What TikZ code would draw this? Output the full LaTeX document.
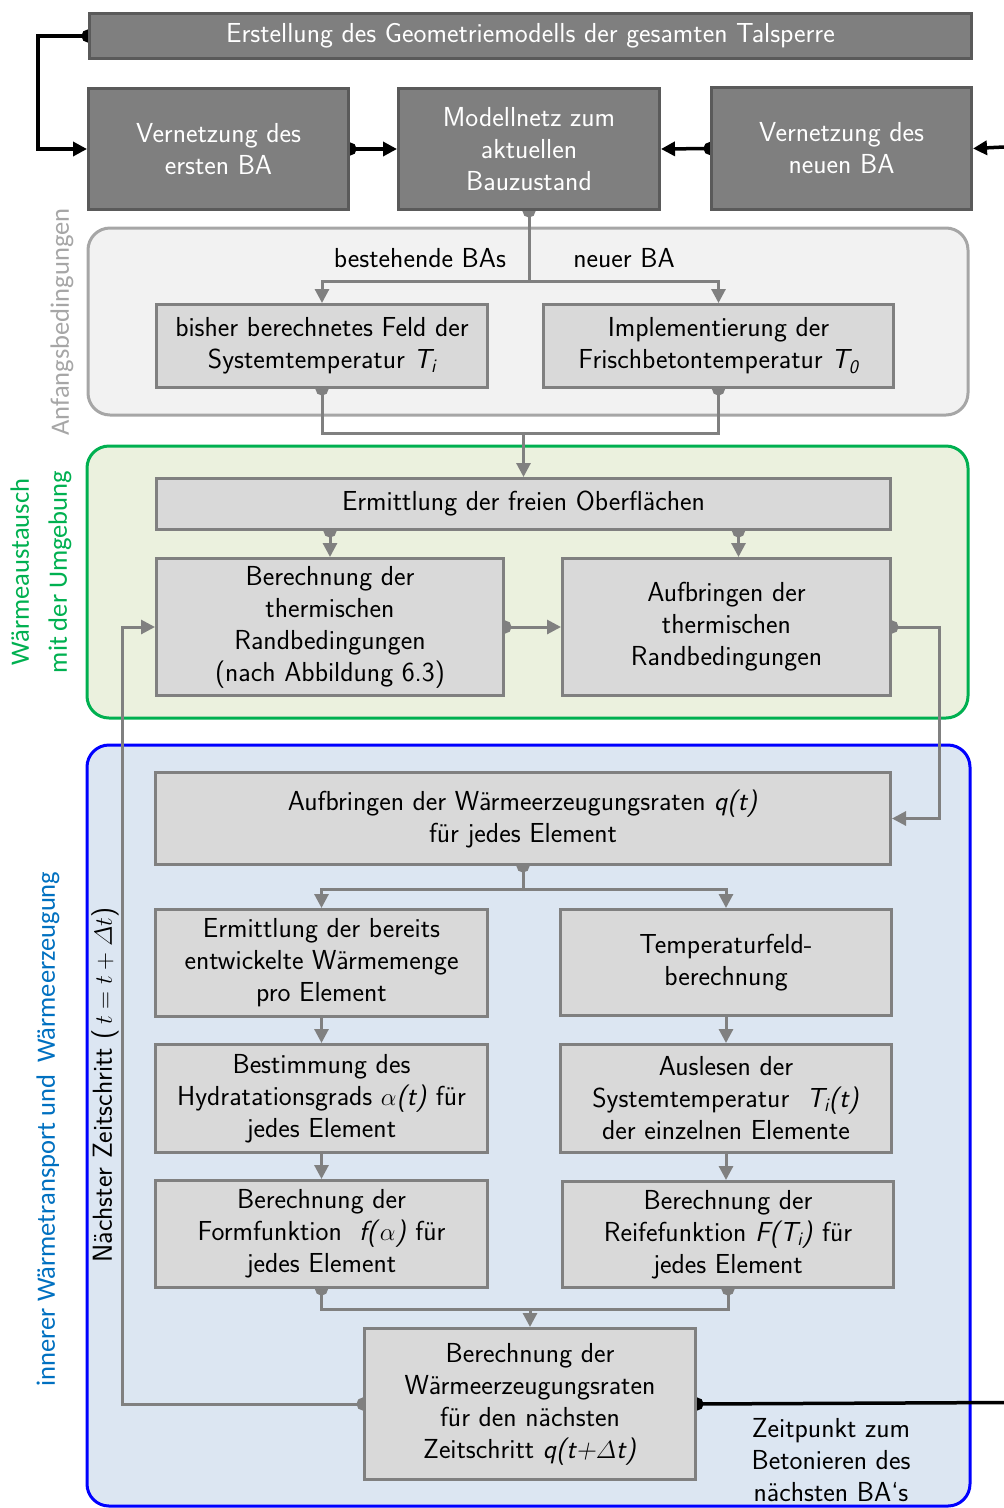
\documentclass[tikz,border=0pt]{standalone}
\usepackage{fontspec}
\usetikzlibrary{arrows.meta,calc,positioning}
\newfontfamily\sidefont{Carlito}
\definecolor{ink}{HTML}{000000}
\definecolor{darkfill}{HTML}{7F7F7F}
\definecolor{darkline}{HTML}{5A5A5A}
\definecolor{boxfill}{HTML}{D9D9D9}
\definecolor{boxline}{HTML}{808080}
\definecolor{anfline}{HTML}{A6A6A6}
\definecolor{anffill}{HTML}{F2F2F2}
\definecolor{waeline}{HTML}{00B050}
\definecolor{waefill}{HTML}{EBF1DE}
\definecolor{innline}{HTML}{0000FF}
\definecolor{innfill}{HTML}{DCE6F2}
\definecolor{innlabel}{HTML}{0070C0}
\pgfdeclarelayer{panels}
\pgfdeclarelayer{wires}
\pgfsetlayers{panels,wires,main}
\tikzset{
  basebox/.style={anchor=north west,align=center,line width=3pt,inner sep=4pt},
  darkbox/.style={basebox,draw=darkline,fill=darkfill,text=white},
  lightbox/.style={basebox,draw=boxline,fill=boxfill,text=ink},
  panel/.style={line width=3pt,rounded corners=22pt},
  sidelabel/.style={rotate=90,align=center,font=\sidefont\fontsize{26.5}{38}\selectfont},
  arrow/.style={-{Triangle[length=14pt,width=14pt]},line width=3pt,draw=boxline},
  dotarrow/.style={arrow,{Circle[length=13pt]}-{Triangle[length=14pt,width=14pt]},shorten <=-6.5pt},
  dotline/.style={line width=3pt,draw=boxline,{Circle[length=13pt]}-{Circle[length=13pt]},shorten <=-6.5pt,shorten >=-6.5pt},
  bkarrow/.style={-{Triangle[length=14pt,width=14pt]},line width=3.5pt,draw=ink},
  bkdotarrow/.style={bkarrow,{Circle[length=13pt]}-{Triangle[length=14pt,width=14pt]},shorten <=-6.5pt},
  bkdot/.style={line width=3.5pt,draw=ink,{Circle[length=13pt]}-,shorten <=-6.5pt}
}

\begin{document}
\begin{tikzpicture}[
    x=1pt,y=-1pt,
    font=\sffamily\fontsize{27.5}{32}\selectfont
  ]
  \useasboundingbox (0,0) rectangle (1004,1508);

  % modell
  \node[darkbox,minimum width=882pt,minimum height=45pt] (geo) at (88,12)
    {Erstellung des Geometriemodells der gesamten Talsperre};
  \node[darkbox,minimum width=260pt,minimum height=121pt] (vers) at (87,87)
    {Vernetzung des\\ersten BA};
  \node[darkbox,minimum width=261pt,minimum height=121pt] (netz) at (397,87)
    {Modellnetz zum\\aktuellen\\Bauzustand};
  \node[darkbox,minimum width=260pt,minimum height=122pt] (vneu) at (710,86)
    {Vernetzung des\\neuen BA};
  \coordinate (pagetop) at (1004,147);
  \coordinate (pagebot) at (1004,1402.5);

  % anfangsbedingungen
  \node[lightbox,minimum width=331pt,minimum height=83pt] (feld) at (155,303)
    {bisher berechnetes Feld der\\Systemtemperatur \textit{T\textsubscript{i}}};
  \node[lightbox,minimum width=350pt,minimum height=83pt] (frisch) at (542,303)
    {Implementierung der\\Frischbetontemperatur \textit{T\textsubscript{0}}};
  \node (best) at (420,258) {bestehende BAs};
  \node (neu) at (624,258) {neuer BA};

  % waermeaustausch
  \node[lightbox,minimum width=734pt,minimum height=51pt] (ober) at (155,477)
    {Ermittlung der freien Oberflächen};
  \node[lightbox,minimum width=347pt,minimum height=137pt] (rbber) at (155,557)
    {Berechnung der\\thermischen\\Randbedingungen\\(nach Abbildung 6.3)};
  \node[lightbox,minimum width=328pt,minimum height=137pt] (rbauf) at (561,557)
    {Aufbringen der\\thermischen\\Randbedingungen};

  % waermetransport
  \node[lightbox,minimum width=735pt,minimum height=92pt] (qauf) at (154,771)
    {Aufbringen der Wärmeerzeugungsraten \textit{q(t)}\\für jedes Element};
  \node[lightbox,minimum width=332pt,minimum height=107pt] (menge) at (154,908)
    {Ermittlung der bereits\\entwickelte Wärmemenge\\pro Element};
  \node[lightbox,minimum width=332pt,minimum height=108pt] (hydr) at (154,1043)
    {Bestimmung des\\Hydratationsgrads $\alpha$\textit{(t)} für\\jedes Element};
  \node[lightbox,minimum width=332pt,minimum height=107pt] (form) at (154,1179)
    {Berechnung der\\Formfunktion \ \textit{f(}$\alpha$\textit{)} für\\jedes Element};
  \node[lightbox,minimum width=331pt,minimum height=106pt] (temp) at (559,908)
    {Temperaturfeld-\\berechnung};
  \node[lightbox,minimum width=331pt,minimum height=108pt] (ausl) at (559,1043)
    {Auslesen der\\Systemtemperatur \ \textit{T\textsubscript{i}(t)}\\der einzelnen Elemente};
  \node[lightbox,minimum width=331pt,minimum height=106pt] (reife) at (561,1180)
    {Berechnung der\\Reifefunktion \textit{F(T\textsubscript{i})} für\\jedes Element};
  \node[lightbox,minimum width=331pt,minimum height=151pt] (qnext) at (363,1327)
    {Berechnung der\\Wärmeerzeugungsraten\\für den nächsten\\Zeitschritt \textit{q(t+}$\mathnormal{\Delta}$\textit{t)}};
  \node[rotate=90] (zeit) at (105,1085) {Nächster Zeitschritt ($\,t = t + \mathnormal{\Delta} t$)};
  \node[align=center] (beton) at (831,1460) {Zeitpunkt zum\\Betonieren des\\nächsten BA`s};

  % seitenbeschriftung
  \node[sidelabel,text=anfline] (lanf) at (62,322) {Anfangsbedingungen};
  \node[sidelabel,text=waeline] (lwae) at (41,572) {Wärmeaustausch\\mit der Umgebung};
  \node[sidelabel,text=innlabel] (linn) at (48,1129) {innerer Wärmetransport und \ Wärmeerzeugung};

  \begin{pgfonlayer}{panels}
    \draw[panel,draw=anfline,fill=anffill] (88,228) rectangle (968,415);
    \draw[panel,draw=waeline,fill=waefill] (87,446) rectangle (968,718);
    \draw[panel,draw=innline,fill=innfill] (87,745) rectangle (970,1506);
  \end{pgfonlayer}

  \begin{pgfonlayer}{wires}
    % schwarz
    \draw[bkdotarrow] (geo.west) -- ++(-50,0) |- (vers.west);
    \draw[bkdotarrow] (vers.east) -- (netz.west);
    \draw[bkdotarrow] (vneu.west) -- (netz.west -| netz.east);
    \draw[bkarrow] (pagetop) -- (vneu.east);
    \draw[bkdot] (qnext.east) -- (pagebot);

    % grau
    \draw[dotarrow] (netz.south) -- ++(0,70) coordinate (s1) -| (feld.north);
    \draw[arrow] (s1) -| (frisch.north);
    \draw[dotline] (feld.south) -- ++(0,44) coordinate (j1) -| (frisch.south);
    \draw[arrow] (j1 -| ober.north) -- (ober.north);
    \draw[dotarrow] (ober.south -| rbber.north) -- (rbber.north);
    \draw[dotarrow] ($(ober.south -| rbauf.north)+(12,0)$) -- ($(rbauf.north)+(12,0)$);
    \draw[dotarrow] (rbber.east) -- (rbauf.west);
    \draw[dotarrow] (rbauf.east) -- ++(47,0) |- (qauf.east);
    \draw[dotarrow] (qauf.south) -- ++(0,23) coordinate (s2) -| (menge.north);
    \draw[arrow] (s2) -| (temp.north);
    \draw[arrow] (menge.south) -- (hydr.north);
    \draw[arrow] (hydr.south) -- (form.north);
    \draw[arrow] (temp.south) -- (ausl.north);
    \draw[arrow] (ausl.south) -- (ausl.south |- reife.north);
    \draw[dotline] (form.south) -- ++(0,20) coordinate (j2) -| (reife.south);
    \draw[arrow] (j2 -| qnext.north) -- (qnext.north);
    \draw[dotarrow] (qnext.west) -- ++(-241,0) |- (rbber.west);
  \end{pgfonlayer}
\end{tikzpicture}
\end{document}
